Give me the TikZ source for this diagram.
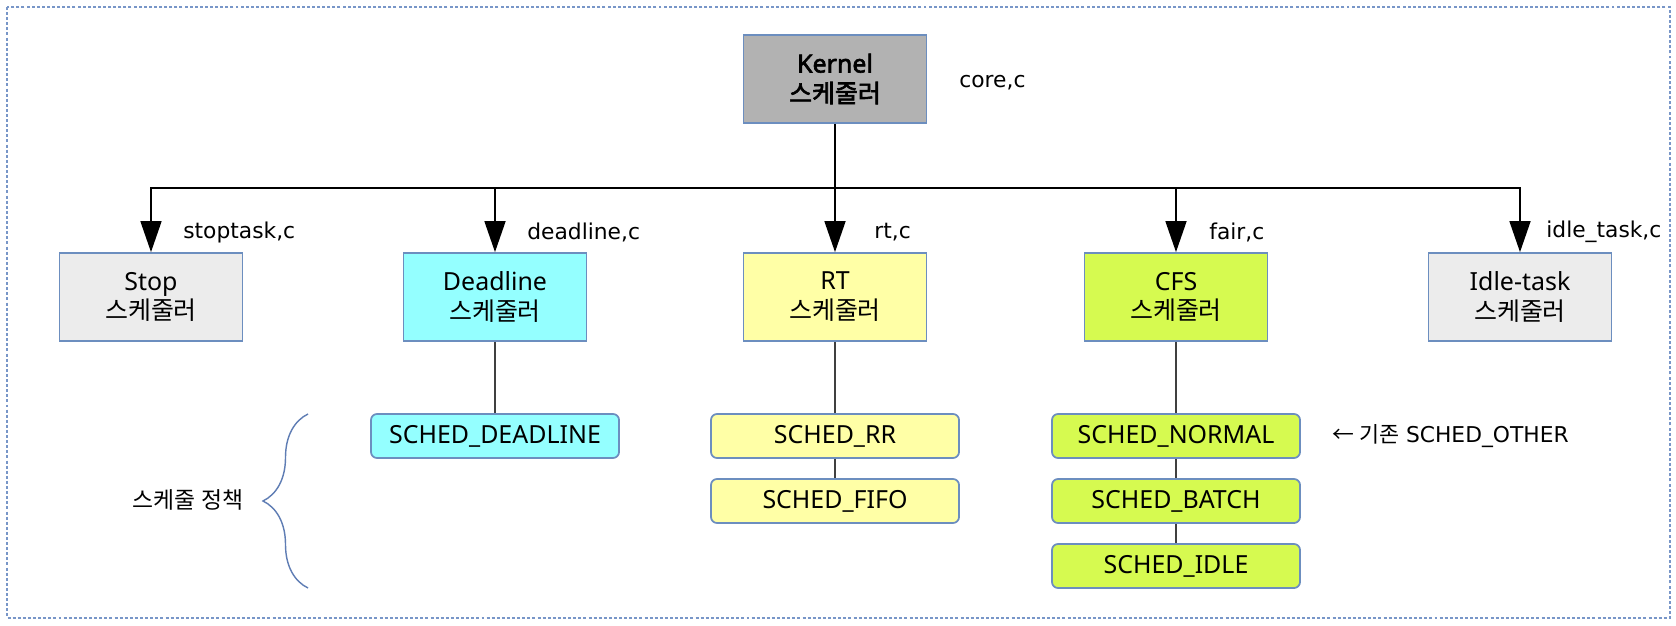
\documentclass[tikz,border=0pt]{standalone}
\usepackage{fontspec}
\setmainfont{Noto Sans}
\newfontfamily\kr{Noto Sans CJK KR}
\newfontfamily\krbold{Noto Sans CJK KR}[FakeBold=2.5]
\newfontfamily\fn{DejaVu Sans}
\newfontfamily\kernfont{Noto Sans}[FakeBold=2.5]
\usetikzlibrary{arrows.meta}
\usetikzlibrary{decorations.pathreplacing}

\definecolor{boxline}{RGB}{108,142,191}
\definecolor{kernfill}{RGB}{178,178,178}
\definecolor{greyfill}{RGB}{236,236,236}
\definecolor{dlfill}{RGB}{148,255,255}
\definecolor{rtfill}{RGB}{255,255,166}
\definecolor{cfsfill}{RGB}{214,250,80}
\definecolor{framecol}{RGB}{120,150,200}
\definecolor{bracecol}{RGB}{95,125,180}

\begin{document}
\begin{tikzpicture}[x = 0.2mm, y = -0.2mm,
    sched/.style = {draw = boxline, line width = 1pt, minimum width = 36.6mm, minimum height = 17.6mm, inner sep = 0, align = center, font = \fontsize{14.2}{17}\selectfont},
    kernbox/.style = {sched, fill = kernfill},
    greybox/.style = {sched, fill = greyfill},
    dlbox/.style = {sched, fill = dlfill},
    rtbox/.style = {sched, fill = rtfill},
    cfsbox/.style = {sched, fill = cfsfill},
    policy/.style = {draw = boxline, line width = 1pt, rounded corners = 1.2mm, minimum width = 49.6mm, minimum height = 8.8mm, inner sep = 0, font = \fontsize{14.2}{17}\selectfont},
    fname/.style = {anchor = west, inner sep = 0, font = \fn\fontsize{12.4}{15}\selectfont},
    arr/.style = {-{Triangle[length = 6.2mm, width = 4.2mm]}, line width = 0.9pt},
    link/.style = {draw = black!75, line width = 0.9pt},
    ]
    \path[fill = white] (0, 0) rectangle (1676, 626);
    \draw[framecol, line width = 0.8pt, dash pattern = on 1.7pt off 1.2pt] (7, 7) rectangle (1670, 618);

    \node[kernbox] (kern) at (835, 79) {{\kernfont Kernel}\\{\krbold 스케줄러}};
    \node[fname] (corec) at (959, 83) {core,c};
    \coordinate (bus) at (835, 188);

    \node[greybox] (stop) at (151, 297) {Stop\\{\kr 스케줄러}};
    \node[dlbox] (dead) at (495, 297) {Deadline\\{\kr 스케줄러}};
    \node[rtbox] (rt) at (835, 297) {RT\\{\kr 스케줄러}};
    \node[cfsbox] (cfs) at (1176, 297) {CFS\\{\kr 스케줄러}};
    \node[greybox] (idle) at (1520, 297) {Idle-task\\{\kr 스케줄러}};

    \draw[line width = 0.9pt] (kern) -- (bus);
    \foreach \n in {stop, dead, rt, cfs, idle}
        \draw[arr] (bus) -| (\n);

    \node[fname] at (183, 232) {stoptask,c};
    \node[fname] at (527, 232) {deadline,c};
    \node[fname] at (874, 232) {rt,c};
    \node[fname] at (1209, 232) {fair,c};
    \node[fname] at (1546, 232) {idle\_task,c};

    \node[policy, fill = dlfill] (dead1) at (495, 436) {SCHED\_DEADLINE};
    \node[policy, fill = rtfill] (rr) at (835, 436) {SCHED\_RR};
    \node[policy, fill = rtfill] (fifo) at (835, 501) {SCHED\_FIFO};
    \node[policy, fill = cfsfill] (normal) at (1176, 436) {SCHED\_NORMAL};
    \node[policy, fill = cfsfill] (batch) at (1176, 501) {SCHED\_BATCH};
    \node[policy, fill = cfsfill] (sidle) at (1176, 566) {SCHED\_IDLE};

    \draw[link] (dead) -- (dead1);
    \draw[link] (rt) -- (rr) -- (fifo);
    \draw[link] (cfs) -- (normal) -- (batch) -- (sidle);

    \node[fname] (other) at (1332, 436) {{\kr ← 기존} SCHED\_OTHER};

    % policy brace
    \draw[bracecol, line width = 0.8pt, decorate, decoration = {brace, amplitude = 9mm}] (308, 588) -- (308, 414);
    \node[font = \kr\fontsize{13}{15}\selectfont] (polname) at (188, 500) {스케줄 정책};
\end{tikzpicture}
\end{document}
